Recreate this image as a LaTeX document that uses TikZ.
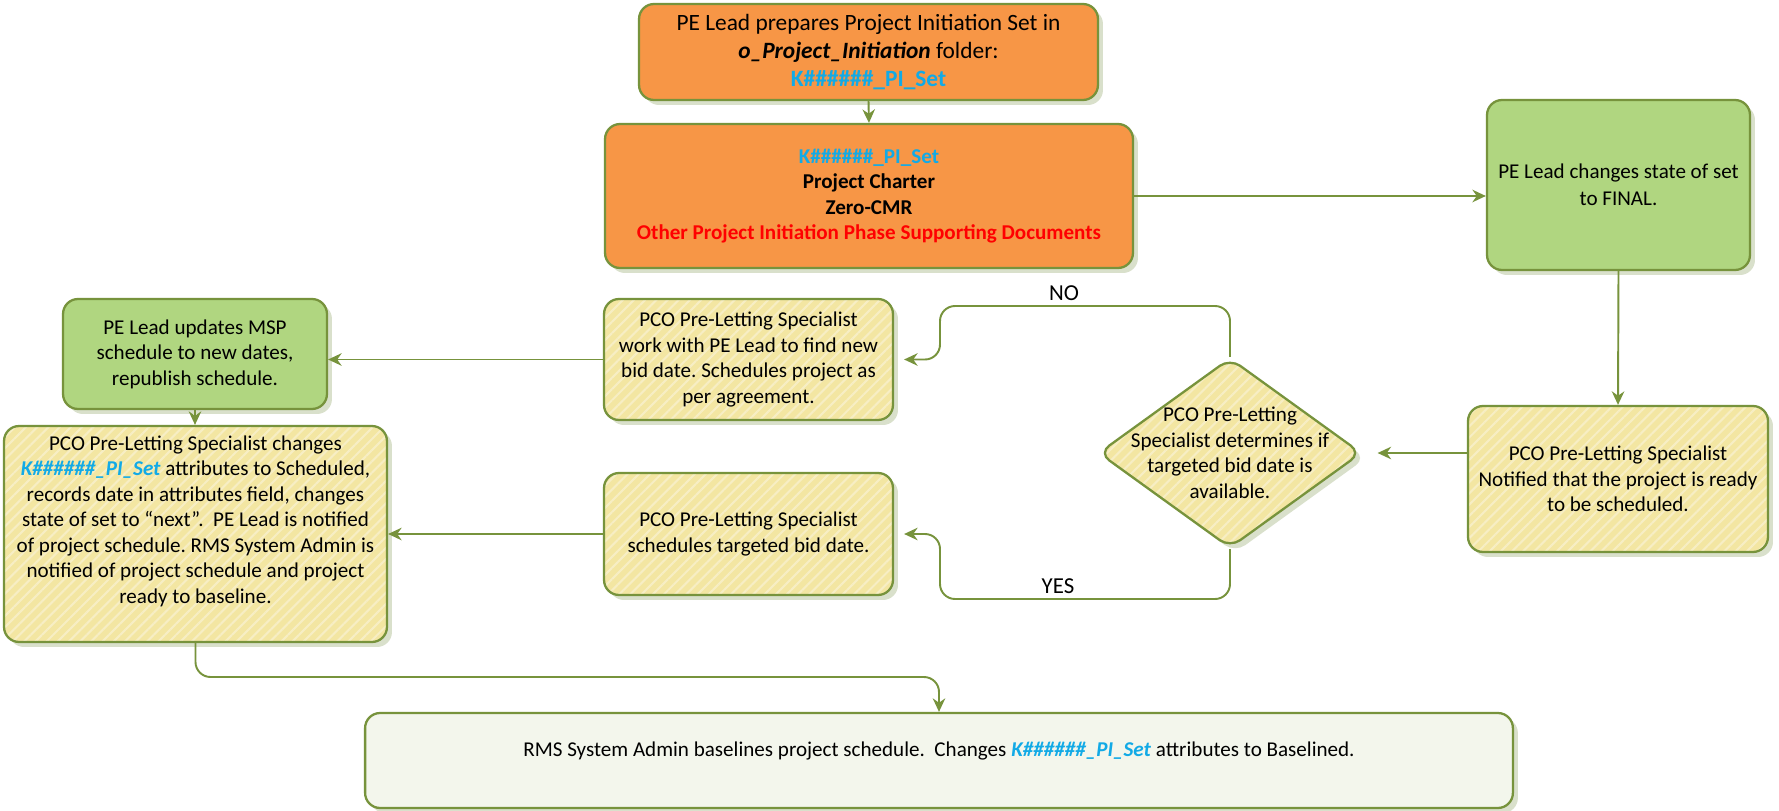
\documentclass[tikz,border=0pt]{standalone}
\usepackage{fontspec}
\setmainfont{Carlito}
\usetikzlibrary{shapes.geometric,arrows.meta,shadows,patterns.meta}
\frenchspacing

\definecolor{olive}{HTML}{77933C}
\definecolor{orangefill}{HTML}{F79646}
\definecolor{greenfill}{HTML}{B0D680}
\definecolor{yellowfill}{HTML}{F3E6A2}
\definecolor{stripe}{HTML}{F7EEC4}
\definecolor{palefill}{HTML}{F3F6EC}
\definecolor{shade}{HTML}{D9E0CB}
\definecolor{setblue}{HTML}{12AAE6}
\definecolor{redtext}{HTML}{FF0000}

\newcommand{\pset}{K\#\#\#\#\#\#\_PI\_Set}

\tikzset{
  body/.style={font=\fontsize{12}{14.5}\selectfont},
  box/.style={body, draw=olive, line width=1.3pt, rounded corners=0.3cm,
    align=center, inner sep=2pt,
    drop shadow={shadow xshift=0.1cm, shadow yshift=-0.1cm, fill=shade, opacity=1}},
  orangebox/.style={box, fill=orangefill},
  greenbox/.style={box, fill=greenfill},
  % striped yellow: plain fill, then the stripes, then the outline on top
  yellowbox/.style={box, fill=none,
    preaction={draw=none, fill=yellowfill},
    preaction={draw=none, pattern={Lines[angle=45,distance=4.5pt,line width=1.2pt]}, pattern color=stripe}},
  palebox/.style={box, fill=palefill},
  flow/.style={draw=olive, line width=1.1pt, -{Stealth[length=0.27cm,width=0.25cm]}},
  branch/.style={body, fill=white, inner xsep=2pt, inner ysep=2.5pt, anchor=base, font=\fontsize{13}{15}\selectfont},
}

\begin{document}
\begin{tikzpicture}[x=0.02cm, y=-0.02cm]
\fill[white] (0,0) rectangle (1779,811);
\useasboundingbox (0,0) rectangle (1779,811);

% top row
\node[orangebox, minimum width=9.18cm, minimum height=1.92cm,
      font=\fontsize{13.3}{16}\selectfont] (prep) at (868.5,52)
  {PE Lead prepares Project Initiation Set in\\
   \textbf{\textit{o\_Project\_Initiation}} folder:\\
   \textcolor{setblue}{\textbf{\pset}}};
\node[orangebox, minimum width=10.56cm, minimum height=2.88cm,
      font=\fontsize{12}{14.5}\selectfont\bfseries] (set) at (869,196)
  {\textcolor{setblue}{\pset}\\
   Project Charter\\
   Zero-CMR\\
   \textcolor{redtext}{Other Project Initiation Phase Supporting Documents}};
\node[greenbox, minimum width=5.26cm, minimum height=3.4cm,
      font=\fontsize{12}{15.3}\selectfont] (final) at (1618.5,185)
  {PE Lead changes state of set\\to FINAL.};

% middle right
\node[yellowbox, minimum width=6cm, minimum height=2.92cm] (notify) at (1618,479)
  {PCO Pre-Letting Specialist\\Notified that the project is ready\\to be scheduled.};
\node[yellowbox, diamond, minimum width=5.26cm, minimum height=3.8cm,
      inner sep=0pt, rounded corners=0.25cm] (decide) at (1230,453) {};
\node[body, align=center] (decidetext) at (decide.center)
  {PCO Pre-Letting\\Specialist determines if\\targeted bid date is\\available.};

% middle column
\node[yellowbox, minimum width=5.78cm, minimum height=2.42cm] (newdate) at (748.5,359.5)
  {PCO Pre-Letting Specialist\\work with PE Lead to find new\\bid date. Schedules project as\\per agreement.};
\node[yellowbox, minimum width=5.78cm, minimum height=2.44cm] (target) at (748.5,534)
  {PCO Pre-Letting Specialist\\schedules targeted bid date.};

% left column
\node[greenbox, minimum width=5.28cm, minimum height=2.2cm] (msp) at (195,354)
  {PE Lead updates MSP\\schedule to new dates,\\republish schedule.};
\node[yellowbox, minimum width=7.66cm, minimum height=4.32cm] (sched) at (195.5,534) {};
\node[body, align=center] (schedtext) at (195.5,521)
  {PCO Pre-Letting Specialist changes\\
   \textcolor{setblue}{\textbf{\textit{\pset}}} attributes to Scheduled,\\
   records date in attributes field, changes\\
   state of set to “next”.~ PE Lead is notified\\
   of project schedule. RMS System Admin is\\
   notified of project schedule and project\\
   ready to baseline.};

% bottom
\node[palebox, minimum width=22.96cm, minimum height=1.9cm] (base) at (939,760.5) {};
\node[body] (basetext) at (939,751)
  {RMS System Admin baselines project schedule.~ Changes
   \textcolor{setblue}{\textbf{\textit{\pset}}} attributes to Baselined.};

% routing points
\coordinate (noR) at (1230,306);
\coordinate (noL) at (940,306);
\coordinate (yesR) at (1230,599);
\coordinate (yesL) at (940,599);
\coordinate (downL) at (195.5,677);
\coordinate (downR) at (939,677);

% connectors
\draw[flow] (prep.south) -- (set.north);
\draw[flow] (set.east) -- (set.east -| final.west);
\draw[flow] (final.south) -- (notify.north);
\draw[flow, shorten >=0.3cm] (notify.west |- decide.east) -- (decide.east);
\draw[flow, rounded corners=0.3cm, shorten >=0.2cm]
  (decide.north) -- (noR) -- (noL) -- (noL |- newdate.east) -- (newdate.east);
\draw[flow, rounded corners=0.3cm, shorten >=0.2cm]
  (decide.south) -- (yesR) -- (yesL) -- (yesL |- target.east) -- (target.east);
\draw[flow] (newdate.west) -- (newdate.west -| msp.east);
\draw[flow] (target.west) -- (target.west -| sched.east);
\draw[flow] (msp.south) -- (msp.south |- sched.north);
\draw[flow, rounded corners=0.3cm] (sched.south) -- (downL) -- (downR) -- (base.north);

% branch labels
\node[branch] (nolabel) at (1064,300) {NO};
\node[branch] (yeslabel) at (1058,593) {YES};
\end{tikzpicture}
\end{document}
